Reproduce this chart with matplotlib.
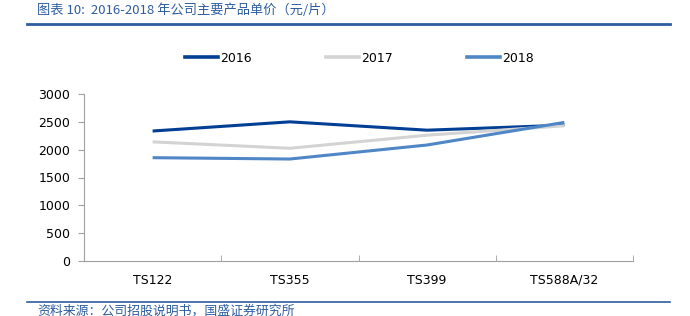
import matplotlib
matplotlib.use("Agg")
import matplotlib.pyplot as plt
from matplotlib.lines import Line2D

categories = ["TS122", "TS355", "TS399", "TS588A/32"]
series_names = ["2016", "2017", "2018"]
v2016 = [2335, 2500, 2350, 2440]
v2017 = [2140, 2025, 2260, 2430]
v2018 = [1856, 1832, 2084, 2490]
yticks = [0, 500, 1000, 1500, 2000, 2500, 3000]

colors = ["#003F94", "#D3D3D3", "#4F86C6"]

plt.rcParams['font.family'] = ['DejaVu Sans', 'Noto Sans CJK SC']

W, H = 690, 316
fig = plt.figure(figsize=(W / 100, H / 100), dpi=100)
ax = fig.add_axes([84 / W, (H - 261) / H, (633 - 84) / W, (261 - 94) / H])

x = list(range(len(categories)))
for vals, c, name in zip([v2016, v2017, v2018], colors, series_names):
    ax.plot(x, vals, color=c, lw=2.2, label=name, solid_capstyle='butt', solid_joinstyle='miter')

ax.set_xlim(-0.5, len(categories) - 0.5)
ax.set_ylim(0, 3000)
ax.set_yticks(yticks)
ax.set_yticklabels([str(t) for t in yticks], fontsize=9)
ax.set_xticks(x)
ax.set_xticklabels(categories, fontsize=9)
ax.tick_params(axis='x', length=0, pad=9)
ax.set_xticks([i - 0.5 for i in range(len(categories) + 1)], minor=True)
ax.tick_params(axis='x', which='minor', direction='in', length=4, color='#A0A0A0')
ax.tick_params(axis='y', direction='out', length=4, color='#A0A0A0', pad=6)
for s in ['top', 'right']:
    ax.spines[s].set_visible(False)
for s in ['left', 'bottom']:
    ax.spines[s].set_color('#A0A0A0')
    ax.spines[s].set_linewidth(0.8)

handles = [Line2D([0], [0], color=c, lw=2.6) for c in colors]
leg = fig.legend(handles, series_names, loc='center', bbox_to_anchor=(359.5 / W, (H - 58) / H),
                 ncol=3, frameon=False, fontsize=9, handlelength=2.64, columnspacing=5.9,
                 handletextpad=0.2)

title_color = "#2E5D9F"
fig.text(37 / W, (H - 10) / H, "图表 10:  2016-2018 年公司主要产品单价（元/片）",
         fontsize=9.5, color=title_color, style='italic', va='center', ha='left',
         family=['Noto Sans CJK SC', 'DejaVu Sans'])
fig.add_artist(Line2D([27 / W, 670 / W], [(H - 23.5) / H] * 2, color=title_color, lw=2))
fig.add_artist(Line2D([27 / W, 670 / W], [(H - 302) / H] * 2, color=title_color, lw=1.2))
fig.text(37 / W, (H - 311) / H, "资料来源：公司招股说明书，国盛证券研究所",
         fontsize=9.3, color=title_color, style='italic', va='center', ha='left',
         family=['Noto Sans CJK SC', 'DejaVu Sans'])

fig.savefig("out.png", dpi=100)
